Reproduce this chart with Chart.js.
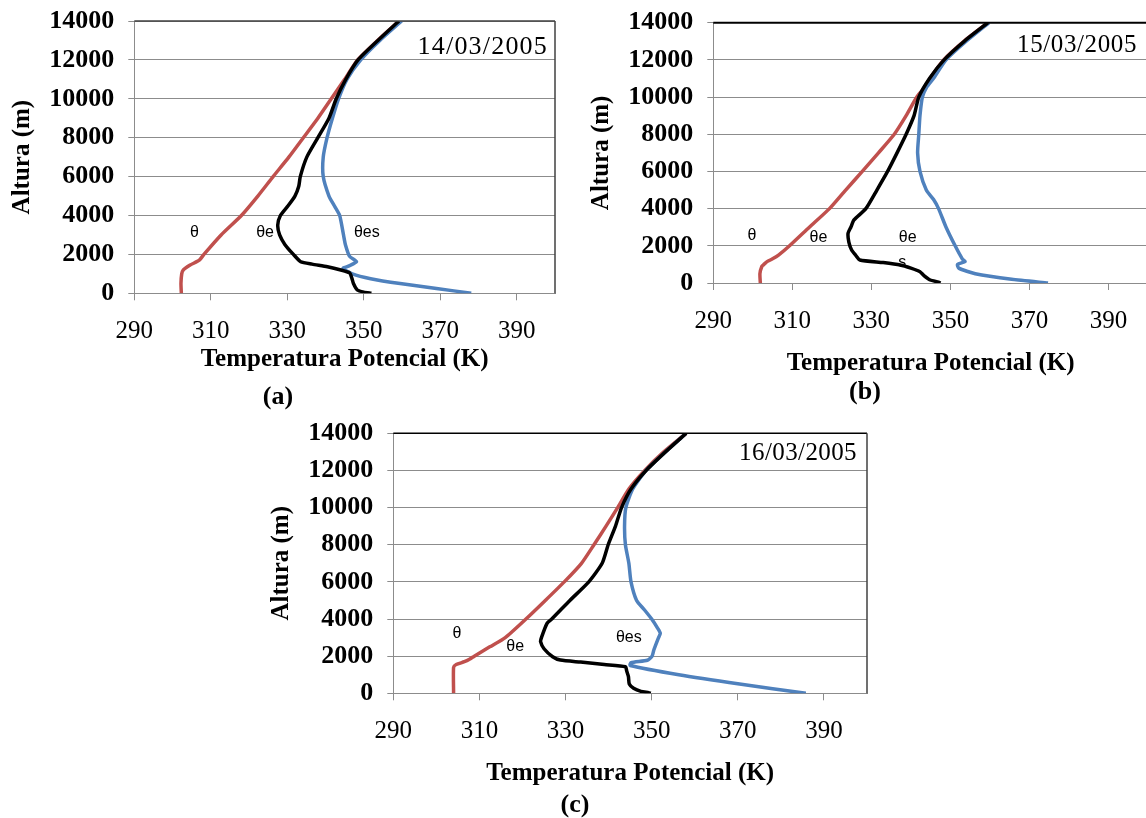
<!DOCTYPE html>
<html>
<head>
<meta charset="utf-8">
<script src="https://cdn.jsdelivr.net/npm/chart.js@4/dist/chart.umd.min.js"></script>
<style>
  html, body { margin: 0; padding: 0; background: #fff; overflow: hidden; width: 1146px; height: 818px; }
  canvas { position: absolute; }
</style>
</head>
<body>
<canvas id="chart-a" width="570" height="410" style="left:0px;top:0px"></canvas>
<canvas id="chart-b" width="576" height="410" style="left:576px;top:0px"></canvas>
<canvas id="chart-c" width="620" height="400" style="left:260px;top:418px"></canvas>
<script>
// eixos comuns
const xTicks = [290, 310, 330, 350, 370, 390];
const yTicks = [0, 2000, 4000, 6000, 8000, 10000, 12000, 14000];

// (a) 14/03/2005
const hThetaA = [0, 500, 1000, 1200, 1450, 1700, 2000, 3000, 4000, 5000, 6000, 7000, 8000, 9000, 10000, 11000, 12000, 13000, 14000];
const tThetaA = [302.3, 302.2, 302.4, 302.8, 304.6, 307.0, 308.2, 312.7, 318.0, 322.3, 326.3, 330.4, 334.2, 338.0, 341.5, 345.0, 348.4, 353.6, 359.2];
const hThetaeA = [0, 60, 170, 500, 770, 1050, 1200, 1367, 1500, 1625, 2000, 2500, 3000, 3500, 4000, 4500, 5000, 5500, 6000, 7000, 8000, 9000, 10000, 11000, 12000, 13000, 14000];
const tThetaeA = [352.0, 350.0, 348.3, 347.3, 346.9, 346.3, 344.0, 340.5, 336.5, 333.5, 331.6, 329.4, 328.0, 327.5, 328.2, 330.2, 332.0, 333.0, 333.4, 335.1, 338.0, 340.9, 342.8, 345.3, 348.5, 353.7, 359.2];
const hThetaesA = [0, 250, 500, 750, 1000, 1280, 1400, 1625, 1900, 2500, 3000, 4000, 4500, 5000, 6000, 7000, 8000, 9000, 10000, 11000, 12000, 13000, 14000];
const tThetaesA = [378.1, 369.0, 359.5, 351.8, 347.0, 344.6, 346.0, 348.1, 346.3, 345.2, 344.7, 343.7, 342.3, 340.9, 339.4, 339.4, 340.4, 341.8, 343.4, 345.6, 349.2, 354.2, 359.9];

// (b) 15/03/2005
const hThetaB = [0, 500, 900, 1000, 1150, 1300, 1500, 2000, 3000, 4000, 5000, 6000, 7000, 8000, 9000, 10000, 10500, 11000, 12000, 13000, 14000];
const tThetaB = [301.9, 301.8, 302.3, 302.8, 303.6, 305.0, 306.5, 309.3, 314.3, 319.4, 323.5, 327.7, 331.8, 335.8, 338.8, 341.5, 343.4, 344.8, 348.3, 353.4, 359.5];
const hThetaeB = [0, 50, 160, 400, 608, 800, 970, 1100, 1237, 1500, 1775, 2200, 2673, 3000, 3390, 4000, 5000, 6000, 7000, 8000, 9000, 10000, 11000, 12000, 13000, 14000];
const tThetaeB = [347.5, 347.0, 344.9, 343.3, 342.3, 340.0, 337.3, 333.0, 327.1, 326.0, 325.0, 324.3, 324.1, 324.8, 325.6, 328.6, 331.4, 334.1, 336.5, 338.8, 340.8, 342.0, 344.7, 348.4, 353.5, 359.5];
const hThetaesB = [0, 200, 500, 800, 1000, 1150, 1300, 2000, 3000, 4000, 4500, 5000, 6000, 7000, 8000, 9000, 10000, 10500, 11000, 12000, 13000, 14000];
const tThetaesB = [374.7, 365.5, 356.3, 352.1, 351.8, 353.7, 353.0, 351.2, 348.9, 347.0, 345.7, 343.9, 342.3, 341.7, 342.0, 342.3, 342.9, 343.9, 345.7, 348.9, 354.0, 359.8];

// (c) 16/03/2005
const hThetaC = [0, 1400, 1550, 1700, 1850, 2000, 2500, 3000, 4000, 5000, 6000, 7000, 8000, 9000, 10000, 11000, 12000, 13000, 14000];
const tThetaC = [304.0, 304.0, 304.6, 306.5, 307.8, 308.8, 312.4, 316.0, 320.8, 325.3, 329.7, 333.7, 336.6, 339.4, 342.1, 344.7, 348.4, 352.8, 358.0];
const hThetaeC = [0, 30, 100, 270, 500, 900, 1200, 1430, 1550, 1680, 1790, 1970, 2400, 2780, 3000, 3770, 4000, 5000, 6000, 7000, 8000, 9000, 10000, 11000, 12000, 13000, 14000];
const tThetaeC = [349.8, 349.3, 347.5, 345.8, 344.8, 344.6, 344.2, 343.9, 339.0, 333.5, 328.8, 327.0, 325.0, 324.2, 324.4, 325.7, 326.8, 331.0, 335.4, 338.5, 339.9, 341.6, 343.0, 345.2, 348.7, 353.2, 358.0];
const hThetaesC = [0, 500, 1000, 1500, 1650, 1780, 2000, 2330, 3000, 3230, 3500, 4000, 4500, 5000, 6000, 7000, 8000, 9000, 10000, 11000, 12000, 13000, 14000];
const tThetaesC = [385.8, 370.4, 356.3, 345.0, 345.2, 349.0, 350.1, 350.5, 351.6, 352.0, 351.4, 350.0, 348.3, 346.5, 345.2, 344.7, 343.9, 343.7, 344.0, 345.6, 348.7, 353.2, 358.0];

const serif = "'Liberation Serif', 'Times New Roman', serif";
const gridGray = '#8c8c8c';

function pts(t, h) {
  return t.map((v, i) => ({ x: v, y: h[i] }));
}

function serie(t, h, color) {
  return {
    data: pts(t, h),
    showLine: true,
    borderColor: color,
    backgroundColor: color,
    borderWidth: 3.5,
    pointRadius: 0,
    tension: 0.2
  };
}

const annotate = {
  id: 'annotate',
  afterDatasetsDraw(chart, args, o) {
    const { ctx, chartArea: a, scales: { x, y } } = chart;
    ctx.save();
    // moldura
    ctx.strokeStyle = o.topColor;
    ctx.lineWidth = o.topWidth;
    ctx.beginPath();
    ctx.moveTo(a.left, a.top);
    ctx.lineTo(a.right, a.top);
    ctx.stroke();
    if (o.rightBorder) {
      ctx.strokeStyle = '#404040';
      ctx.lineWidth = 1.5;
      ctx.beginPath();
      ctx.moveTo(a.right, a.top);
      ctx.lineTo(a.right, a.bottom);
      ctx.stroke();
    }
    // rótulos das curvas
    ctx.fillStyle = '#000';
    ctx.font = "16px 'Liberation Sans', Arial, sans-serif";
    ctx.textAlign = 'center';
    ctx.textBaseline = 'middle';
    o.labels.forEach(l => ctx.fillText(l.text, x.getPixelForValue(l.t), y.getPixelForValue(l.h)));
    // data
    ctx.font = o.dateFont;
    ctx.letterSpacing = o.dateSpacing;
    ctx.textAlign = 'right';
    ctx.fillText(o.date, o.dateX, o.dateY);
    ctx.letterSpacing = '0px';
    // legenda (a)/(b)/(c)
    ctx.font = 'bold 26px ' + serif;
    ctx.textAlign = 'center';
    ctx.fillText(o.caption, o.capX, o.capY);
    ctx.restore();
  }
};

function makeChart(id, sets, p) {
  return new Chart(document.getElementById(id), {
    type: 'scatter',
    data: { datasets: sets },
    plugins: [annotate],
    options: {
      responsive: false,
      animation: false,
      layout: { padding: { top: p.top, right: p.right, left: 0, bottom: 0 } },
      plugins: {
        legend: { display: false },
        tooltip: { enabled: false },
        annotate: p.annot
      },
      scales: {
        x: {
          type: 'linear',
          min: 290,
          max: 400,
          afterBuildTicks: s => { s.ticks = xTicks.map(v => ({ value: v })); },
          afterFit: s => { s.height = p.xHeight; s.paddingLeft = 0; s.paddingRight = 0; },
          grid: { drawOnChartArea: false, drawTicks: true, tickLength: 7, color: gridGray },
          border: { color: gridGray, width: 1 },
          ticks: { color: '#000', padding: p.xPad, font: { family: serif, size: 25 }, callback: v => String(v) },
          title: {
            display: true,
            text: 'Temperatura Potencial (K)',
            color: '#000',
            font: { family: serif, size: 25, weight: 'bold' },
            padding: { top: 0, bottom: p.xTitlePad }
          }
        },
        y: {
          type: 'linear',
          min: 0,
          max: 14000,
          afterBuildTicks: s => { s.ticks = yTicks.map(v => ({ value: v })); },
          afterFit: s => { s.width = p.yWidth; s.paddingTop = 0; s.paddingBottom = 0; },
          grid: { color: gridGray, lineWidth: 1, drawTicks: true, tickLength: 6 },
          border: { color: gridGray, width: 1 },
          ticks: { color: '#000', padding: 14, font: { family: serif, size: 26, weight: 'bold' }, callback: v => String(v) },
          title: {
            display: true,
            text: 'Altura (m)',
            color: '#000',
            font: { family: serif, size: 25, weight: 'bold' },
            padding: { top: p.yTitlePad, bottom: 0 }
          }
        }
      }
    }
  });
}

makeChart('chart-a', [
  serie(tThetaeA, hThetaeA, '#000000'),
  serie(tThetaesA, hThetaesA, '#4F81BD'),
  serie(tThetaA, hThetaA, '#C0504D')
], {
  top: 21, right: 15, xHeight: 116.7, yWidth: 134.3, xPad: 16.4, xTitlePad: 35.7, yTitlePad: 8,
  annot: {
    topColor: '#404040', topWidth: 1.5, rightBorder: true,
    labels: [
      { text: 'θ', t: 305.7, h: 3100 },
      { text: 'θe', t: 324.2, h: 3100 },
      { text: 'θes', t: 350.8, h: 3100 }
    ],
    date: '14/03/2005', dateFont: '26px ' + serif, dateSpacing: '1.2px', dateX: 548, dateY: 47,
    caption: '(a)', capX: 278, capY: 397
  }
});

makeChart('chart-b', [
  serie(tThetaeB, hThetaeB, '#000000'),
  serie(tThetaesB, hThetaesB, '#4F81BD'),
  serie(tThetaB, hThetaB, '#C0504D')
], {
  top: 22.7, right: 4, xHeight: 127, yWidth: 137.3, xPad: 16.7, xTitlePad: 31.7, yTitlePad: 10.5,
  annot: {
    topColor: '#000', topWidth: 2, rightBorder: false,
    labels: [
      { text: 'θ', t: 299.8, h: 2550 },
      { text: 'θe', t: 316.6, h: 2460 },
      { text: 'θe', t: 339.2, h: 2420 },
      { text: 's', t: 337.8, h: 1110 }
    ],
    date: '15/03/2005', dateFont: '25px ' + serif, dateSpacing: '0.6px', dateX: 561, dateY: 45,
    caption: '(b)', capX: 289, capY: 392
  }
});

makeChart('chart-c', [
  serie(tThetaeC, hThetaeC, '#000000'),
  serie(tThetaesC, hThetaesC, '#4F81BD'),
  serie(tThetaC, hThetaC, '#C0504D')
], {
  top: 15.3, right: 13, xHeight: 124.7, yWidth: 133.3, xPad: 16.4, xTitlePad: 29.7, yTitlePad: 6.5,
  annot: {
    topColor: '#000', topWidth: 1.5, rightBorder: true,
    labels: [
      { text: 'θ', t: 304.8, h: 3230 },
      { text: 'θe', t: 318.3, h: 2520 },
      { text: 'θes', t: 344.7, h: 3000 }
    ],
    date: '16/03/2005', dateFont: '25px ' + serif, dateSpacing: '0.4px', dateX: 597, dateY: 35,
    caption: '(c)', capX: 315, capY: 387
  }
});
</script>
</body>
</html>
